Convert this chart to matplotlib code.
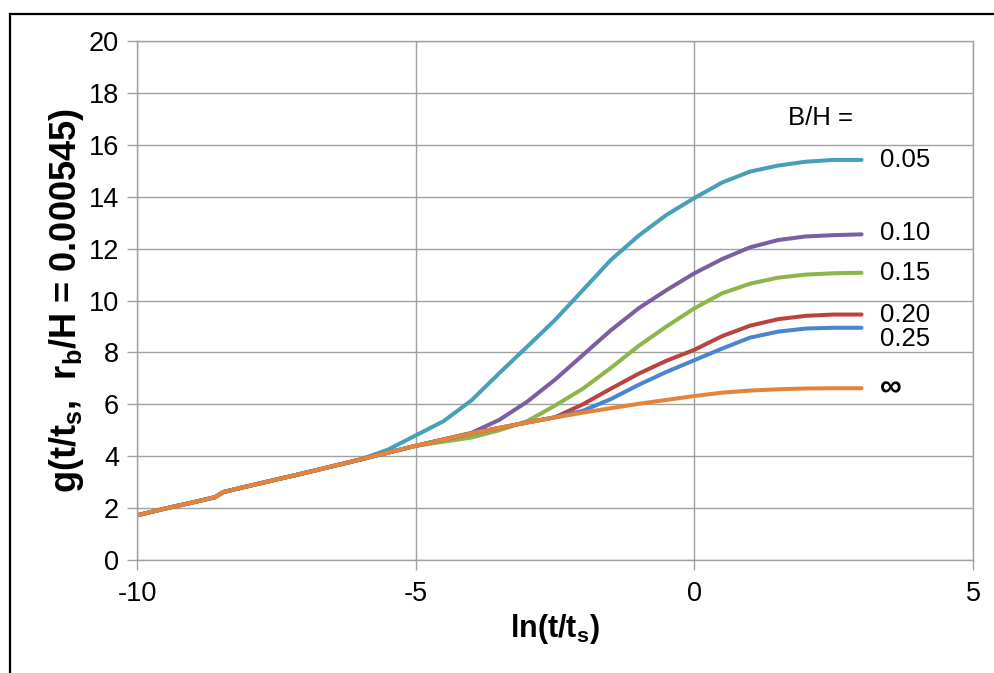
import matplotlib
matplotlib.use("Agg")
import matplotlib.pyplot as plt
from matplotlib.lines import Line2D

plt.rcParams['font.family'] = ['Liberation Sans', 'DejaVu Sans']
plt.rcParams['axes.unicode_minus'] = False

# shared early-time part (all curves coincide here)
x_common = [-10, -9.5, -9, -8.6, -8.45, -8, -7, -6]
g_common = [1.72, 1.98, 2.22, 2.42, 2.62, 2.85, 3.35, 3.87]

# B/H = 0.05
x_005 = [-5.5, -5, -4.5, -4, -3.5, -3, -2.5, -2, -1.5, -1, -0.5, 0, 0.5, 1, 1.5, 2, 2.5, 3]
g_005 = [4.25, 4.8, 5.35, 6.15, 7.2, 8.22, 9.25, 10.4, 11.56, 12.5, 13.3, 13.95, 14.55, 14.97, 15.2, 15.35, 15.42, 15.42]

# B/H = 0.10
x_010 = [-5, -4, -3.5, -3, -2.5, -2, -1.5, -1, -0.5, 0, 0.5, 1, 1.5, 2, 2.5, 3]
g_010 = [4.4, 4.9, 5.4, 6.1, 6.95, 7.9, 8.85, 9.7, 10.4, 11.05, 11.6, 12.05, 12.33, 12.47, 12.52, 12.55]

# B/H = 0.15
x_015 = [-5, -4, -3.5, -3, -2.5, -2, -1.5, -1, -0.5, 0, 0.5, 1, 1.5, 2, 2.5, 3]
g_015 = [4.4, 4.72, 5.0, 5.35, 5.95, 6.6, 7.4, 8.25, 9.0, 9.7, 10.28, 10.65, 10.88, 11.0, 11.05, 11.07]

# B/H = 0.20
x_020 = [-5, -4, -3, -2.5, -2, -1.5, -1, -0.5, 0, 0.5, 1, 1.5, 2, 2.5, 3]
g_020 = [4.4, 4.88, 5.3, 5.5, 6.0, 6.6, 7.18, 7.68, 8.1, 8.63, 9.03, 9.28, 9.41, 9.46, 9.46]

# B/H = 0.25
x_025 = [-5, -4, -3, -2.5, -2, -1.5, -1, -0.5, 0, 0.5, 1, 1.5, 2, 2.5, 3]
g_025 = [4.4, 4.88, 5.3, 5.5, 5.75, 6.2, 6.75, 7.25, 7.7, 8.15, 8.57, 8.8, 8.92, 8.95, 8.95]

# B/H = infinity
x_inf = [-5, -4, -3, -2, -1, 0, 0.5, 1, 1.5, 2, 2.5, 3]
g_inf = [4.4, 4.88, 5.3, 5.68, 6.02, 6.32, 6.45, 6.53, 6.58, 6.61, 6.62, 6.62]

labels = ['0.05', '0.10', '0.15', '0.20', '0.25', '\u221e']
label_y = [15.4, 12.6, 11.06, 9.44, 8.5, 6.63]
colors = ['#46A0B8', '#7B5EA0', '#8DB54A', '#B8433F', '#4A86CF', '#E6833A']

fig = plt.figure(figsize=(9.94, 6.73), dpi=100)
ax = fig.add_axes([0.1378, 0.1679, 0.8411, 0.7711])

series = [(x_005, g_005), (x_010, g_010), (x_015, g_015),
          (x_020, g_020), (x_025, g_025), (x_inf, g_inf)]
# orange drawn last so it sits on top, like the original
for (xs, gs), c in zip(series, colors):
    ax.plot(x_common + xs, g_common + gs, color=c, lw=2.9,
            solid_capstyle='round', solid_joinstyle='round')

for lab, ly in zip(labels, label_y):
    size = 22 if lab == '\u221e' else 18.5
    weight = 'bold' if lab == '\u221e' else 'normal'
    ax.text(3.33, ly, lab, fontsize=size, fontweight=weight, va='center', ha='left')
ax.text(2.26, 17.05, 'B/H =', fontsize=18.5, va='center', ha='center')

ax.set_xlim(-10, 5)
ax.set_ylim(0, 20)
ax.set_xticks([-10, -5, 0, 5])
ax.set_yticks(range(0, 21, 2))
ax.grid(True, color='#a0a0a0', lw=1.0)
ax.set_axisbelow(True)
for sp in ax.spines.values():
    sp.set_color('#a0a0a0')
    sp.set_linewidth(1.0)
ax.tick_params(axis='both', colors='#a0a0a0', labelcolor='black',
               labelsize=19.5, length=7, width=1.0, direction='out')
ax.tick_params(axis='x', pad=8)
ax.tick_params(axis='y', pad=6)

ax.set_xlabel('ln(t/t$_\\mathregular{s}$)', fontsize=22, fontweight='bold', labelpad=4)
ax.set_ylabel('g(t/t$_\\mathregular{s}$,  r$_\\mathregular{b}$/H = 0.000545)',
              fontsize=26, fontweight='bold', labelpad=2)

# outer black frame (left and top edges visible)
fx = 9.5 / 994
fy = 1 - 14 / 673
fig.add_artist(Line2D([fx, fx], [0, fy], color='black', lw=1.6, transform=fig.transFigure))
fig.add_artist(Line2D([fx, 1], [fy, fy], color='black', lw=1.6, transform=fig.transFigure))

fig.savefig('out.png', dpi=100)
